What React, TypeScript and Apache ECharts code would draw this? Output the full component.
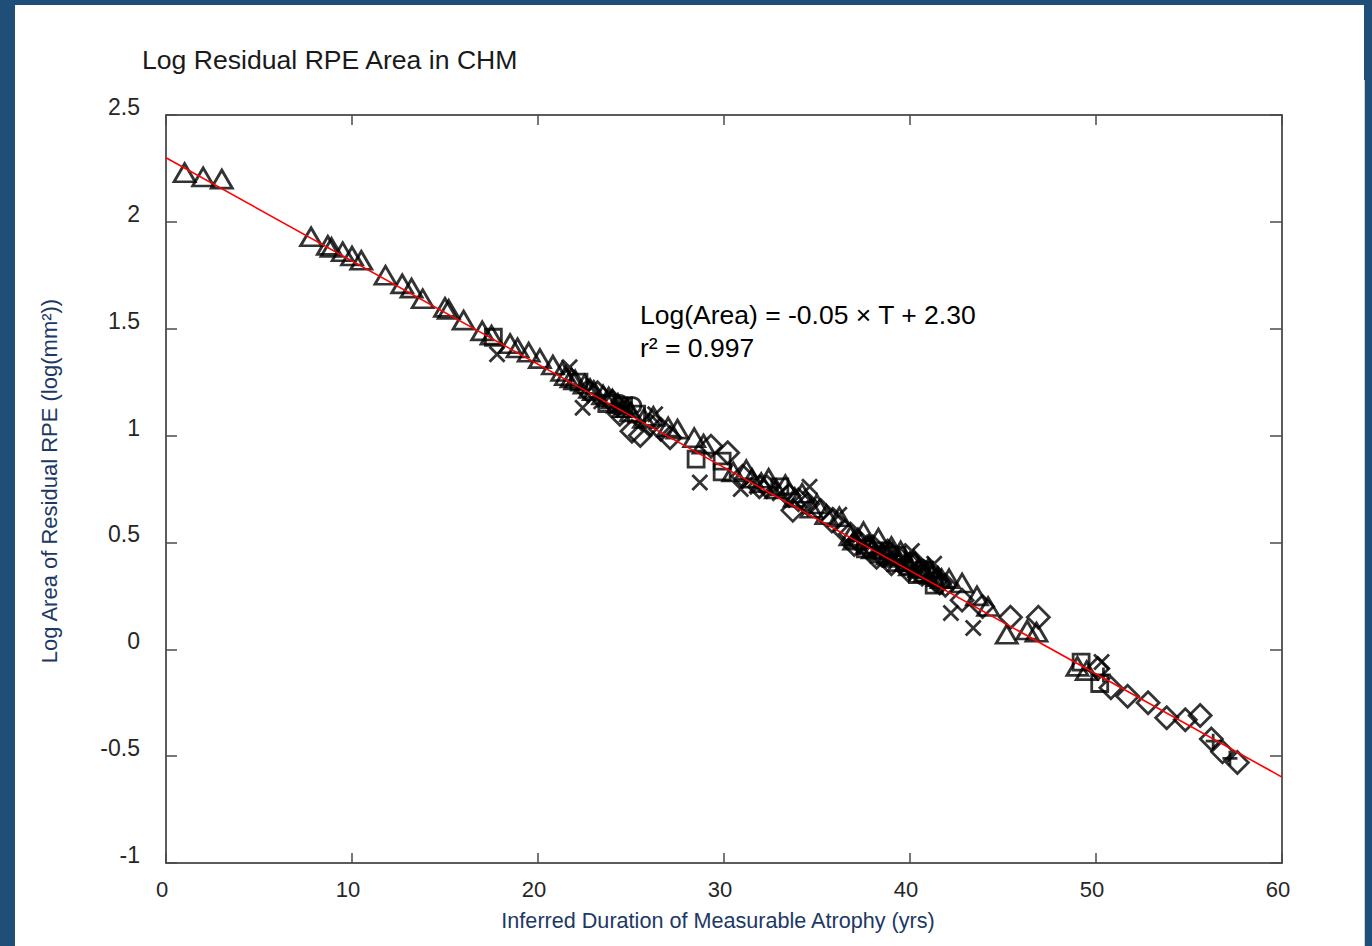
import React, { useEffect, useRef } from "react";
import * as echarts from "echarts";

// ---- data (T in years, log area) ----
const triangles: [number, number][] = [
  [1.0, 2.23], [2.0, 2.21], [3.0, 2.2],
  [7.8, 1.93], [8.7, 1.89], [8.9, 1.88], [9.5, 1.86], [10.0, 1.84], [10.5, 1.82],
  [11.8, 1.75], [12.7, 1.71], [13.2, 1.69], [13.8, 1.64], [15.0, 1.6], [15.2, 1.59],
  [16.0, 1.54], [17.0, 1.49], [17.5, 1.47], [18.5, 1.43], [18.9, 1.41], [19.5, 1.39],
  [20.1, 1.36], [20.8, 1.33], [21.3, 1.3], [21.5, 1.28], [21.8, 1.27], [22.0, 1.26],
  [22.5, 1.24], [22.8, 1.22], [23.0, 1.21], [23.5, 1.19], [23.8, 1.18], [24.0, 1.17],
  [24.3, 1.15], [24.6, 1.13], [24.8, 1.13], [25.0, 1.11], [25.7, 1.08], [26.2, 1.09],
  [27.0, 1.04], [27.5, 1.03], [28.4, 0.99], [28.9, 0.96], [30.5, 0.83], [31.2, 0.84],
  [31.5, 0.8], [32.0, 0.78], [32.4, 0.8], [32.8, 0.75], [33.3, 0.77], [33.8, 0.71],
  [34.2, 0.73], [34.7, 0.66], [35.0, 0.68], [35.5, 0.63], [36.2, 0.62], [36.8, 0.53],
  [37.0, 0.51], [37.2, 0.52], [37.5, 0.55], [37.8, 0.49], [38.0, 0.47], [38.3, 0.52],
  [38.5, 0.45], [38.8, 0.44], [39.0, 0.48], [39.2, 0.43], [39.4, 0.41], [39.5, 0.46],
  [39.8, 0.41], [40.0, 0.39], [40.2, 0.42], [40.5, 0.38], [40.8, 0.36], [41.0, 0.38],
  [41.2, 0.35], [41.5, 0.34], [41.7, 0.33], [42.1, 0.33], [42.8, 0.31], [43.6, 0.25],
  [44.2, 0.2], [45.2, 0.07], [46.3, 0.09], [46.8, 0.08], [49.0, -0.08], [49.5, -0.1],
];
const diamonds: [number, number][] = [
  [22.7, 1.21], [23.2, 1.2], [24.0, 1.16], [24.4, 1.1], [25.05, 1.02], [25.5, 1.0],
  [26.0, 1.05], [26.6, 1.03], [27.1, 0.99], [29.3, 0.95], [30.2, 0.92], [31.0, 0.81],
  [31.9, 0.76], [32.3, 0.76], [33.5, 0.72], [33.7, 0.65], [34.0, 0.7], [34.5, 0.68],
  [35.2, 0.65], [35.8, 0.6], [36.5, 0.55], [36.8, 0.54], [37.0, 0.49], [37.3, 0.5],
  [37.7, 0.48], [38.0, 0.48], [38.2, 0.43], [38.5, 0.44], [38.8, 0.46], [39.0, 0.4],
  [39.5, 0.42], [39.9, 0.37], [40.0, 0.4], [40.3, 0.4], [40.5, 0.36], [41.1, 0.35],
  [41.4, 0.32], [41.6, 0.31], [41.9, 0.3], [42.8, 0.23], [43.9, 0.2], [45.4, 0.15],
  [46.9, 0.15], [50.1, -0.09], [50.8, -0.18], [51.7, -0.22], [52.8, -0.25],
  [53.8, -0.32], [54.8, -0.33], [55.6, -0.31], [56.2, -0.42], [56.8, -0.48], [57.6, -0.53],
];
const squares: [number, number][] = [
  [17.6, 1.46], [22.2, 1.25], [23.7, 1.15], [24.6, 1.14], [25.3, 1.1], [28.5, 0.89],
  [29.9, 0.88], [29.9, 0.83], [33.0, 0.76], [37.6, 0.47], [38.6, 0.46], [39.3, 0.44],
  [40.4, 0.35], [40.8, 0.37], [41.3, 0.3], [49.2, -0.06], [50.2, -0.16],
];
const crosses: [number, number][] = [
  [17.8, 1.38], [21.7, 1.32], [22.4, 1.13], [23.4, 1.16], [24.6, 1.12], [26.3, 1.1],
  [28.7, 0.78], [30.9, 0.75], [31.8, 0.76], [33.0, 0.73], [34.6, 0.76], [36.2, 0.63],
  [38.2, 0.45], [39.0, 0.42], [40.1, 0.46], [40.3, 0.37], [41.0, 0.33], [41.3, 0.4],
  [42.2, 0.17], [43.4, 0.1], [50.3, -0.06],
];
const circles: [number, number][] = [[24.4, 1.15], [25.1, 1.14], [38.9, 0.45], [39.7, 0.39], [40.6, 0.38]];
const pluses: [number, number][] = [[50.4, -0.12], [56.3, -0.43], [57.2, -0.51]];

const FIT_INTERCEPT = 2.3;
const FIT_SLOPE = -0.0483;
const X_RANGE = [0, 60];
const fitLine: [number, number][] = X_RANGE.map((t) => [t, FIT_INTERCEPT + FIT_SLOPE * t]);

const TITLE = "Log Residual RPE Area in CHM";
const X_NAME = "Inferred Duration of Measurable Atrophy (yrs)";
const Y_NAME = "Log Area of Residual RPE (log(mm²))";
const EQ_LINE = "Log(Area) = -0.05 × T + 2.30";
const R2_LINE = "r² = 0.997";

const FONT = "'Liberation Sans', Arial, Helvetica, sans-serif";
const CROSS = "path://M0,0L10,10M10,0L0,10";
const PLUS = "path://M5,0L5,10M0,5L10,5";

function markerSeries(name: string, data: [number, number][], symbol: string, size: any) {
  return {
    type: "scatter",
    name,
    data,
    symbol,
    symbolSize: size,
    xAxisIndex: 0,
    yAxisIndex: 0,
    itemStyle: { color: "transparent", borderColor: "#000", borderWidth: 2.8 },
    emphasis: { disabled: true },
    z: 2,
  };
}

export default function App() {
  const ref = useRef<HTMLDivElement>(null);
  useEffect(() => {
    if (!ref.current) return;
    const chart = echarts.init(ref.current, null, { renderer: "svg" });
    const axisLine = { show: true, onZero: false, lineStyle: { color: "#262626", width: 1.5 } };
    const tick = (len: number) => ({ show: true, inside: true, length: len, lineStyle: { color: "#4a4a4a", width: 1.5 } });
    chart.setOption({
      animation: false,
      backgroundColor: "#1f4e79",
      title: {
        text: TITLE,
        left: 142,
        top: 46,
        padding: 0,
        textStyle: { fontSize: 26.6, fontWeight: "normal", color: "#1a1a1a", fontFamily: FONT },
      },
      grid: { left: 166, top: 115, right: 90, bottom: 83, containLabel: false },
      xAxis: [
        {
          type: "value", min: 0, max: 60, interval: 10, position: "bottom",
          axisLine, axisTick: tick(10), splitLine: { show: false },
          axisLabel: { margin: 15, fontSize: 22, color: "#262626", fontFamily: FONT, padding: [0, 8, 0, 0] },
        },
        {
          type: "value", min: 0, max: 60, interval: 10, position: "top",
          axisLine, axisTick: tick(10), splitLine: { show: false }, axisLabel: { show: false },
        },
      ],
      yAxis: [
        {
          type: "value", min: -1, max: 2.5, interval: 0.5, position: "left",
          axisLine, axisTick: tick(11), splitLine: { show: false },
          axisLabel: {
            margin: 26, fontSize: 23, color: "#262626", fontFamily: FONT,
            verticalAlign: "bottom", lineHeight: 16,
          },
        },
        {
          type: "value", min: -1, max: 2.5, interval: 0.5, position: "right",
          axisLine, axisTick: tick(12), splitLine: { show: false }, axisLabel: { show: false },
        },
      ],
      graphic: [
        { type: "rect", z: -10, shape: { x: 15, y: 5, width: 1349, height: 941 }, style: { fill: "#ffffff" } },
        { type: "line", z: -9, shape: { x1: 1364.5, y1: 80, x2: 1364.5, y2: 946 }, style: { stroke: "#d0d0d0", lineWidth: 1 } },
        {
          type: "text", x: 640, y: 315, z: 10,
          style: { text: EQ_LINE, fontSize: 26.5, fill: "#000", fontFamily: FONT, verticalAlign: "middle", align: "left" },
        },
        {
          type: "text", x: 640, y: 348, z: 10,
          style: { text: R2_LINE, fontSize: 26.5, fill: "#000", fontFamily: FONT, verticalAlign: "middle", align: "left" },
        },
        {
          type: "text", x: 718, y: 920, z: 10,
          style: { text: X_NAME, fontSize: 21.6, fill: "#203864", fontFamily: FONT, verticalAlign: "middle", align: "center" },
        },
        {
          type: "text", x: 49, y: 481, rotation: Math.PI / 2, z: 10,
          style: { text: Y_NAME, fontSize: 22, fill: "#203864", fontFamily: FONT, verticalAlign: "middle", align: "center" },
        },
      ],
      series: [
        markerSeries("triangles", triangles, "triangle", [21, 18]),
        markerSeries("diamonds", diamonds, "diamond", [22, 22]),
        markerSeries("squares", squares, "rect", [16, 16]),
        markerSeries("crosses", crosses, CROSS, [15, 15]),
        markerSeries("circles", circles, "circle", [16, 16]),
        markerSeries("pluses", pluses, PLUS, [15, 15]),
        {
          type: "line",
          name: "fit",
          data: fitLine,
          symbol: "none",
          xAxisIndex: 0,
          yAxisIndex: 0,
          lineStyle: { color: "#ff0000", width: 1.6 },
          emphasis: { disabled: true },
          z: 5,
        },
      ],
    });
    return () => chart.dispose();
  }, []);
  return (
    <div
      ref={ref}
      style={{ position: "fixed", left: 0, top: 0, width: 1372, height: 946 }}
    />
  );
}
